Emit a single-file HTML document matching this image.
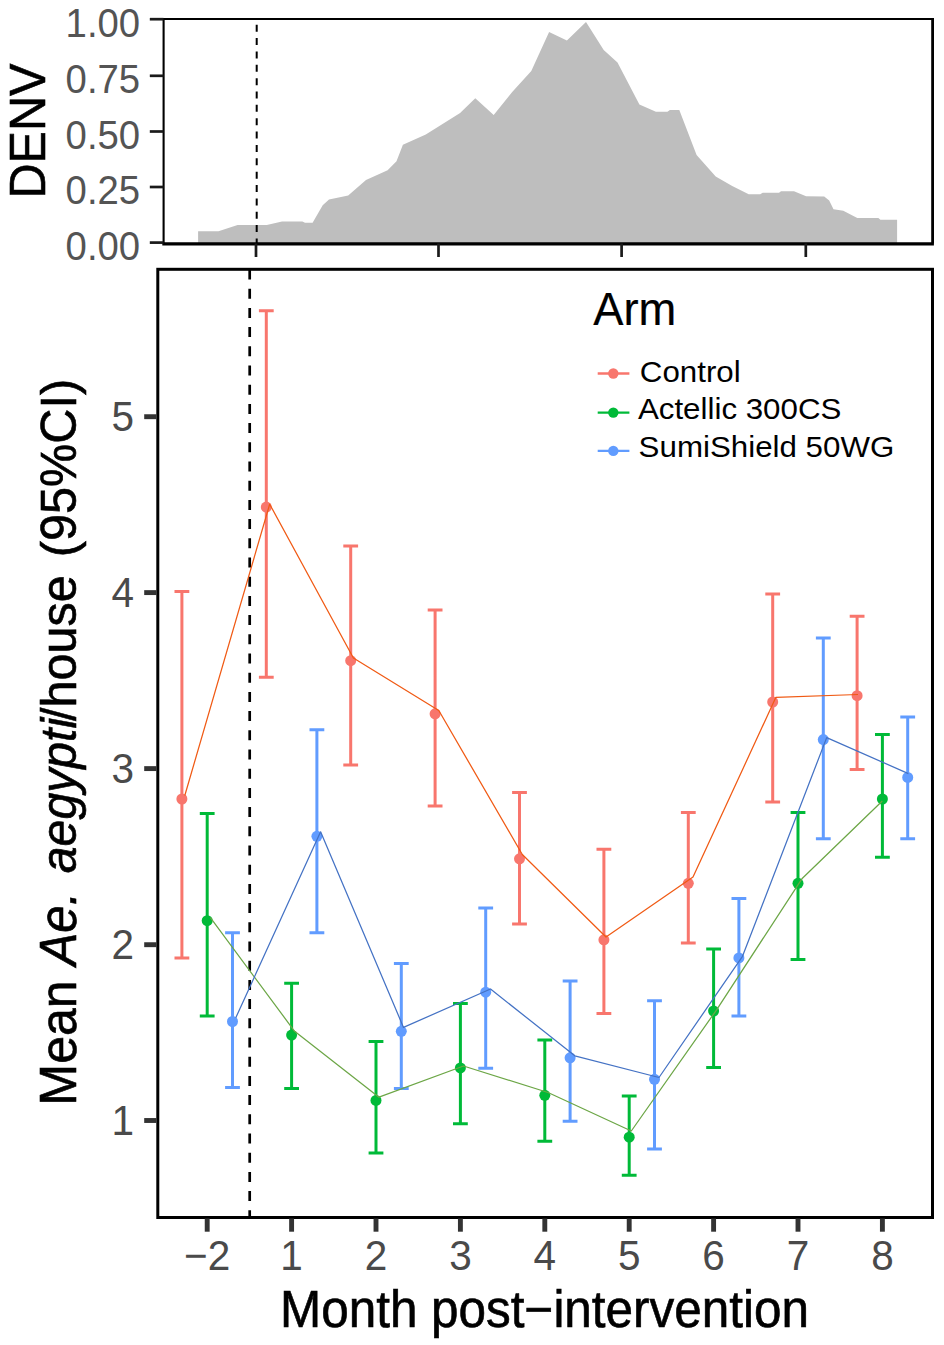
<!DOCTYPE html>
<html lang="en"><head><meta charset="utf-8"><title>Figure</title>
<style>html,body{margin:0;padding:0;background:#fff}svg{display:block}text{font-family:"Liberation Sans",Arial,Helvetica,sans-serif}</style></head><body>
<svg width="944" height="1345" viewBox="0 0 944 1345">
<rect width="944" height="1345" fill="#fff"/>
<g id="top">
<polygon fill="#BEBEBE" points="198.1,243.0 198.1,231.2 218.5,231.2 237.6,224.9 266.8,224.9 282.0,221.5 302.4,221.5 305.0,222.8 312.6,222.8 322.7,205.3 329.0,199.4 348.2,195.6 366.0,179.9 387.6,170.2 396.5,161.3 402.9,144.8 425.8,134.6 460.1,113.0 475.3,98.2 493.7,115.0 512.2,91.9 531.3,71.0 549.1,32.1 566.9,40.5 586.0,22.0 603.7,49.9 617.5,62.6 639.4,104.6 655.9,111.7 667.4,111.7 669.9,109.9 679.3,109.9 696.6,154.9 715.7,176.5 732.2,185.9 748.7,194.3 760.2,194.3 762.7,192.8 779.0,192.8 781.0,191.3 794.0,191.3 806.1,196.3 824.2,196.5 829.2,200.6 833.5,209.3 843.3,210.7 857.3,218.1 878.4,218.1 880.4,219.7 897.1,219.7 897.1,243.0"/>
<line x1="256.7" y1="24.7" x2="256.7" y2="243" stroke="#000" stroke-width="2" stroke-dasharray="7 6.36"/>
<path d="M163.5 19.1H932.6" fill="none" stroke="#000" stroke-width="2"/>
<path d="M932.6 18V243.5" fill="none" stroke="#000" stroke-width="2.8"/>
<path d="M163.6 18V243.5" fill="none" stroke="#000" stroke-width="2.1"/>
<path d="M162.3 243.9H933.9" fill="none" stroke="#000" stroke-width="3.4"/>
<line x1="149.8" x2="163.5" y1="19.2" y2="19.2" stroke="#1a1a1a" stroke-width="2.7"/>
<text transform="translate(140.13 36.50) scale(1 1.038)" font-size="38.30" text-anchor="end" fill="#545454">1.00</text>
<line x1="149.8" x2="163.5" y1="75.8" y2="75.8" stroke="#1a1a1a" stroke-width="2.7"/>
<text transform="translate(140.13 93.10) scale(1 1.038)" font-size="38.30" text-anchor="end" fill="#545454">0.75</text>
<line x1="149.8" x2="163.5" y1="131.5" y2="131.5" stroke="#1a1a1a" stroke-width="2.7"/>
<text transform="translate(140.13 148.80) scale(1 1.038)" font-size="38.30" text-anchor="end" fill="#545454">0.50</text>
<line x1="149.8" x2="163.5" y1="187.0" y2="187.0" stroke="#1a1a1a" stroke-width="2.7"/>
<text transform="translate(140.13 204.30) scale(1 1.038)" font-size="38.30" text-anchor="end" fill="#545454">0.25</text>
<line x1="149.8" x2="163.5" y1="242.6" y2="242.6" stroke="#1a1a1a" stroke-width="2.7"/>
<text transform="translate(140.13 259.90) scale(1 1.038)" font-size="38.30" text-anchor="end" fill="#545454">0.00</text>
<line x1="256.0" x2="256.0" y1="243.5" y2="257" stroke="#1a1a1a" stroke-width="2.7"/>
<line x1="438.5" x2="438.5" y1="243.5" y2="257" stroke="#1a1a1a" stroke-width="2.7"/>
<line x1="621.6" x2="621.6" y1="243.5" y2="257" stroke="#1a1a1a" stroke-width="2.7"/>
<line x1="805.8" x2="805.8" y1="243.5" y2="257" stroke="#1a1a1a" stroke-width="2.7"/>
<text transform="translate(44.90 131.00) rotate(-90) scale(1 1.038)" font-size="48.60" text-anchor="middle" fill="#000" stroke="#000" stroke-width="0.60">DENV</text>
</g>
<g id="main">
<line x1="249.7" y1="269.5" x2="249.7" y2="1217.5" stroke="#000" stroke-width="2.7" stroke-dasharray="10 9.2"/>
<path d="M174.5 591.5H189.3M181.9 591.5V957.9M174.5 957.9H189.3M258.9 310.8H273.7M266.3 310.8V677.3M258.9 677.3H273.7M343.3 545.9H358.1M350.7 545.9V765.0M343.3 765.0H358.1M427.7 609.9H442.5M435.1 609.9V806.0M427.7 806.0H442.5M512.1 792.6H526.9M519.5 792.6V923.9M512.1 923.9H526.9M596.5 849.3H611.3M603.9 849.3V1013.5M596.5 1013.5H611.3M680.9 812.5H695.7M688.3 812.5V943.0M680.9 943.0H695.7M765.3 594.0H780.1M772.7 594.0V802.0M765.3 802.0H780.1M849.7 616.3H864.5M857.1 616.3V769.4M849.7 769.4H864.5" fill="none" stroke="#F8766D" stroke-width="3"/>
<path d="M199.8 813.5H214.6M207.2 813.5V1016.0M199.8 1016.0H214.6M284.2 983.3H299.0M291.6 983.3V1088.5M284.2 1088.5H299.0M368.6 1041.5H383.4M376.0 1041.5V1153.0M368.6 1153.0H383.4M453.0 1003.4H467.8M460.4 1003.4V1123.8M453.0 1123.8H467.8M537.4 1039.9H552.2M544.8 1039.9V1141.3M537.4 1141.3H552.2M621.8 1096.0H636.6M629.2 1096.0V1175.3M621.8 1175.3H636.6M706.2 949.0H721.0M713.6 949.0V1067.4M706.2 1067.4H721.0M790.6 812.5H805.4M798.0 812.5V959.5M790.6 959.5H805.4M875.0 734.5H889.8M882.4 734.5V857.2M875.0 857.2H889.8" fill="none" stroke="#00BA38" stroke-width="3"/>
<path d="M225.1 932.8H239.9M232.5 932.8V1087.5M225.1 1087.5H239.9M309.5 729.7H324.3M316.9 729.7V932.8M309.5 932.8H324.3M393.9 963.6H408.7M401.3 963.6V1088.5M393.9 1088.5H408.7M478.3 908.0H493.1M485.7 908.0V1068.3M478.3 1068.3H493.1M562.7 981.1H577.5M570.1 981.1V1121.3M562.7 1121.3H577.5M647.1 1000.8H661.9M654.5 1000.8V1148.9M647.1 1148.9H661.9M731.5 898.5H746.3M738.9 898.5V1016.0M731.5 1016.0H746.3M815.9 637.9H830.7M823.3 637.9V838.7M815.9 838.7H830.7M900.3 716.9H915.1M907.7 716.9V838.8M900.3 838.8H915.1" fill="none" stroke="#619CFF" stroke-width="3"/>
<circle cx="181.9" cy="799.0" r="5.5" fill="#F8766D"/>
<circle cx="266.3" cy="507.1" r="5.5" fill="#F8766D"/>
<circle cx="350.7" cy="660.7" r="5.5" fill="#F8766D"/>
<circle cx="435.1" cy="713.8" r="5.5" fill="#F8766D"/>
<circle cx="519.5" cy="858.8" r="5.5" fill="#F8766D"/>
<circle cx="603.9" cy="939.8" r="5.5" fill="#F8766D"/>
<circle cx="688.3" cy="883.3" r="5.5" fill="#F8766D"/>
<circle cx="772.7" cy="702.0" r="5.5" fill="#F8766D"/>
<circle cx="857.1" cy="695.7" r="5.5" fill="#F8766D"/>
<circle cx="207.2" cy="920.7" r="5.5" fill="#00BA38"/>
<circle cx="291.6" cy="1035.1" r="5.5" fill="#00BA38"/>
<circle cx="376.0" cy="1100.4" r="5.5" fill="#00BA38"/>
<circle cx="460.4" cy="1067.9" r="5.5" fill="#00BA38"/>
<circle cx="544.8" cy="1095.3" r="5.5" fill="#00BA38"/>
<circle cx="629.2" cy="1137.2" r="5.5" fill="#00BA38"/>
<circle cx="713.6" cy="1011.0" r="5.5" fill="#00BA38"/>
<circle cx="798.0" cy="883.3" r="5.5" fill="#00BA38"/>
<circle cx="882.4" cy="799.0" r="5.5" fill="#00BA38"/>
<circle cx="232.5" cy="1021.5" r="5.5" fill="#619CFF"/>
<circle cx="316.9" cy="836.3" r="5.5" fill="#619CFF"/>
<circle cx="401.3" cy="1031.3" r="5.5" fill="#619CFF"/>
<circle cx="485.7" cy="992.2" r="5.5" fill="#619CFF"/>
<circle cx="570.1" cy="1057.8" r="5.5" fill="#619CFF"/>
<circle cx="654.5" cy="1079.3" r="5.5" fill="#619CFF"/>
<circle cx="738.9" cy="957.9" r="5.5" fill="#619CFF"/>
<circle cx="823.3" cy="739.6" r="5.5" fill="#619CFF"/>
<circle cx="907.7" cy="777.4" r="5.5" fill="#619CFF"/>
<polyline fill="none" stroke="#F05A14" stroke-width="1.25" stroke-linejoin="round" points="184.8,795.5 269.7,504.2 353.4,658.0 438.8,710.5 522.3,854.5 606.0,937.0 693.0,877.0 775.9,697.3 858.0,694.5"/>
<polyline fill="none" stroke="#6CA646" stroke-width="1.25" stroke-linejoin="round" points="210.4,917.6 294.6,1031.3 379.0,1097.2 463.5,1066.0 548.0,1092.5 631.3,1131.0 716.6,1009.8 801.9,878.8 882.3,801.0"/>
<polyline fill="none" stroke="#4472C4" stroke-width="1.25" stroke-linejoin="round" points="235.8,1017.7 320.6,831.8 403.5,1027.4 490.5,989.0 574.8,1055.8 659.0,1077.5 742.5,956.3 826.7,737.6 908.4,773.6"/>
<rect x="157.8" y="269.3" width="774.7" height="948.2" fill="none" stroke="#000" stroke-width="3"/>
<line x1="144.2" x2="156.6" y1="416.7" y2="416.7" stroke="#333333" stroke-width="4.9"/>
<text transform="translate(134.12 431.20) scale(1 1.038)" font-size="40.50" text-anchor="end" fill="#4A4A4A">5</text>
<line x1="144.2" x2="156.6" y1="592.6" y2="592.6" stroke="#333333" stroke-width="4.9"/>
<text transform="translate(134.12 607.10) scale(1 1.038)" font-size="40.50" text-anchor="end" fill="#4A4A4A">4</text>
<line x1="144.2" x2="156.6" y1="768.6" y2="768.6" stroke="#333333" stroke-width="4.9"/>
<text transform="translate(134.12 783.10) scale(1 1.038)" font-size="40.50" text-anchor="end" fill="#4A4A4A">3</text>
<line x1="144.2" x2="156.6" y1="944.7" y2="944.7" stroke="#333333" stroke-width="4.9"/>
<text transform="translate(134.12 959.20) scale(1 1.038)" font-size="40.50" text-anchor="end" fill="#4A4A4A">2</text>
<line x1="144.2" x2="156.6" y1="1120.5" y2="1120.5" stroke="#333333" stroke-width="4.9"/>
<text transform="translate(134.12 1135.00) scale(1 1.038)" font-size="40.50" text-anchor="end" fill="#4A4A4A">1</text>
<line x1="207.2" x2="207.2" y1="1218.5" y2="1231.7" stroke="#333333" stroke-width="4.9"/>
<text transform="translate(207.20 1270.20) scale(1 1.038)" font-size="40.50" text-anchor="middle" fill="#4A4A4A">−2</text>
<line x1="291.6" x2="291.6" y1="1218.5" y2="1231.7" stroke="#333333" stroke-width="4.9"/>
<text transform="translate(291.60 1270.20) scale(1 1.038)" font-size="40.50" text-anchor="middle" fill="#4A4A4A">1</text>
<line x1="376.0" x2="376.0" y1="1218.5" y2="1231.7" stroke="#333333" stroke-width="4.9"/>
<text transform="translate(376.00 1270.20) scale(1 1.038)" font-size="40.50" text-anchor="middle" fill="#4A4A4A">2</text>
<line x1="460.4" x2="460.4" y1="1218.5" y2="1231.7" stroke="#333333" stroke-width="4.9"/>
<text transform="translate(460.40 1270.20) scale(1 1.038)" font-size="40.50" text-anchor="middle" fill="#4A4A4A">3</text>
<line x1="544.8" x2="544.8" y1="1218.5" y2="1231.7" stroke="#333333" stroke-width="4.9"/>
<text transform="translate(544.80 1270.20) scale(1 1.038)" font-size="40.50" text-anchor="middle" fill="#4A4A4A">4</text>
<line x1="629.2" x2="629.2" y1="1218.5" y2="1231.7" stroke="#333333" stroke-width="4.9"/>
<text transform="translate(629.20 1270.20) scale(1 1.038)" font-size="40.50" text-anchor="middle" fill="#4A4A4A">5</text>
<line x1="713.6" x2="713.6" y1="1218.5" y2="1231.7" stroke="#333333" stroke-width="4.9"/>
<text transform="translate(713.60 1270.20) scale(1 1.038)" font-size="40.50" text-anchor="middle" fill="#4A4A4A">6</text>
<line x1="798.0" x2="798.0" y1="1218.5" y2="1231.7" stroke="#333333" stroke-width="4.9"/>
<text transform="translate(798.00 1270.20) scale(1 1.038)" font-size="40.50" text-anchor="middle" fill="#4A4A4A">7</text>
<line x1="882.4" x2="882.4" y1="1218.5" y2="1231.7" stroke="#333333" stroke-width="4.9"/>
<text transform="translate(882.40 1270.20) scale(1 1.038)" font-size="40.50" text-anchor="middle" fill="#4A4A4A">8</text>
<text transform="translate(280.00 1327.00) scale(1 1.038)" font-size="49.45" text-anchor="start" fill="#000" stroke="#000" stroke-width="0.60">Month post−intervention</text>
<text transform="translate(76.00 1105.40) rotate(-90) scale(1 1.038)" font-size="50.00" text-anchor="start" fill="#000" stroke="#000" stroke-width="0.60">Mean</text>
<text transform="translate(76.00 965.60) rotate(-90) scale(1 1.038)" font-size="49.20" text-anchor="start" fill="#000" stroke="#000" stroke-width="0.60" font-style="italic">Ae.</text>
<text transform="translate(76.00 873.20) rotate(-90) scale(1 1.038)" font-size="48.20" text-anchor="start" fill="#000" stroke="#000" stroke-width="0.60" font-style="italic">aegypti</text>
<text transform="translate(76.00 720.90) rotate(-90) scale(1 1.038)" font-size="48.50" text-anchor="start" fill="#000" stroke="#000" stroke-width="0.60">/house</text>
<text transform="translate(76.00 557.30) rotate(-90) scale(1 1.038)" font-size="48.70" text-anchor="start" fill="#000" stroke="#000" stroke-width="0.60">(95%CI)</text>
<text transform="translate(593.30 324.90) scale(1 1.012)" font-size="45.30" text-anchor="start" fill="#000" stroke="#000" stroke-width="0.20">Arm</text>
<line x1="597.7" x2="629.4" y1="373.5" y2="373.5" stroke="#F8766D" stroke-width="2.4"/>
<circle cx="613.3" cy="373.5" r="5.2" fill="#F8766D"/>
<text transform="translate(639.80 382.00) scale(1 0.970)" font-size="31.30" text-anchor="start" fill="#000">Control</text>
<line x1="597.7" x2="629.4" y1="412.6" y2="412.6" stroke="#00BA38" stroke-width="2.4"/>
<circle cx="613.3" cy="412.6" r="5.2" fill="#00BA38"/>
<text transform="translate(637.90 419.40) scale(1 0.970)" font-size="31.30" text-anchor="start" fill="#000">Actellic 300CS</text>
<line x1="597.7" x2="629.4" y1="450.9" y2="450.9" stroke="#619CFF" stroke-width="2.4"/>
<circle cx="613.3" cy="450.9" r="5.2" fill="#619CFF"/>
<text transform="translate(638.60 457.30) scale(1 0.970)" font-size="31.30" text-anchor="start" fill="#000">SumiShield 50WG</text>
</g>
</svg></body></html>
